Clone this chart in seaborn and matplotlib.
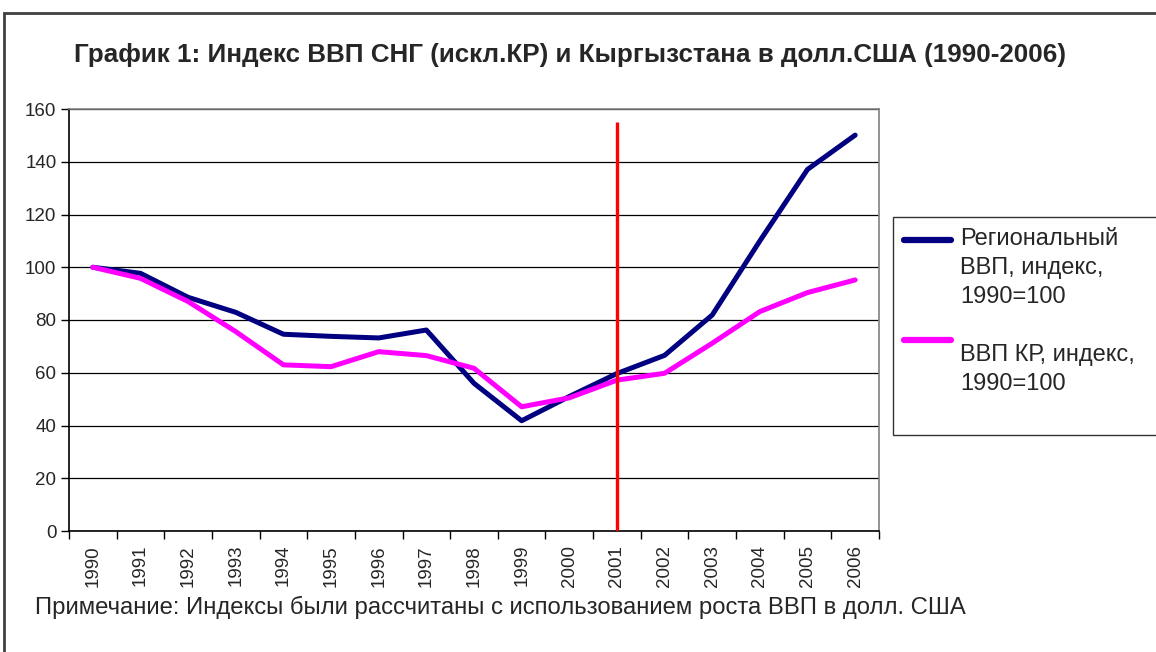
import pandas as pd
import numpy as np
import matplotlib
matplotlib.use("Agg")
import matplotlib.pyplot as plt
from matplotlib.patches import Rectangle
import seaborn as sns

# data
years = list(range(1990, 2007))
regional_gdp = [100, 97.7, 88.6, 82.9, 74.6, 73.8, 73.2, 76.2, 56.0, 41.8,
                51.0, 59.7, 66.6, 81.9, 110.0, 137.1, 150.1]
kr_gdp = [100, 95.8, 87.0, 75.6, 63.0, 62.3, 68.0, 66.5, 61.7, 47.1,
          50.5, 57.2, 59.8, 71.2, 83.2, 90.4, 95.2]
series_names = ["Региональный\nВВП, индекс,\n1990=100", "ВВП КР, индекс,\n1990=100\n"]
marker_year = 2001
marker_top = 155

title = "График 1: Индекс ВВП СНГ (искл.КР) и Кыргызстана в долл.США (1990-2006)"
note = "Примечание: Индексы были рассчитаны с использованием роста ВВП в долл. США"

df = pd.DataFrame({
    "year": years * 2,
    "value": regional_gdp + kr_gdp,
    "series": [series_names[0]] * len(years) + [series_names[1]] * len(years),
})

sns.set_theme(style="white")
plt.rcParams["font.family"] = ["Liberation Sans", "DejaVu Sans"]

fig = plt.figure(figsize=(11.56, 6.52), dpi=100)
ax = fig.add_axes([69 / 1156, 1 - 531 / 652, 810 / 1156, 422 / 652])

sns.lineplot(data=df, x="year", y="value", hue="series",
             palette=["#000080", "#FF00FF"], linewidth=3.6, ax=ax,
             legend=True)
ax.vlines(marker_year, 0, marker_top, color="#FF0000", linewidth=2.4, zorder=5)

ax.set_xlim(years[0] - 0.5, years[-1] + 0.5)
ax.set_ylim(0, 160)
ax.set_yticks(np.arange(0, 161, 20))
ax.yaxis.grid(True, color="black", linewidth=0.9)
ax.set_axisbelow(True)

# year labels at category centres, tick marks between categories
ax.set_xticks(years)
ax.set_xticklabels([str(y) for y in years], rotation=90, fontsize=13.5)
ax.set_xticks(np.arange(years[0] - 0.5, years[-1] + 1), minor=True)
ax.tick_params(axis="x", which="major", length=0, pad=10)
ax.tick_params(axis="x", which="minor", length=6, width=1, color="black", direction="out", bottom=True)
ax.tick_params(axis="y", length=6, width=1, color="black", direction="out", left=True, labelsize=13.5, pad=3)
ax.set_xlabel("")
ax.set_ylabel("")

for side in ["left", "bottom"]:
    ax.spines[side].set_color("black")
    ax.spines[side].set_linewidth(1.2)
for side in ["top", "right"]:
    ax.spines[side].set_color("#808080")
    ax.spines[side].set_linewidth(1.2)

handles, labels = ax.get_legend_handles_labels()
ax.get_legend().remove()
leg = fig.legend(handles, labels, loc="upper left",
                 bbox_to_anchor=(893 / 1156, 1 - 217 / 652, 0.3, 0),
                 mode="expand", borderaxespad=0, frameon=True, fancybox=False,
                 fontsize=17, handlelength=2.0, labelspacing=1.55,
                 borderpad=0.45, handletextpad=0.4)
leg.get_frame().set_edgecolor("black")
leg.get_frame().set_linewidth(1.0)
for txt in leg.get_texts():
    txt.set_linespacing(1.41)
# Excel puts the legend keys higher than the centre of the label block
for line, shift in zip(leg.get_lines(), [20, 32]):
    line.set_linewidth(4.5)
    line.set_ydata(np.asarray(line.get_ydata()) + shift)

fig.text(570 / 1156, 1 - 55 / 652, title, ha="center", va="center",
         fontsize=18.7, fontweight="bold")
fig.text(35 / 1156, 1 - 607 / 652, note, ha="left", va="center", fontsize=17.2)

# outer chart frame, cut by the right and bottom edges like the source
fig.patches.append(Rectangle((4 / 1156, -0.1), 1.2, 1 - 13 / 652 + 0.1,
                             transform=fig.transFigure, fill=False,
                             edgecolor="#404040", linewidth=2))

fig.savefig("out.png", dpi=100)
